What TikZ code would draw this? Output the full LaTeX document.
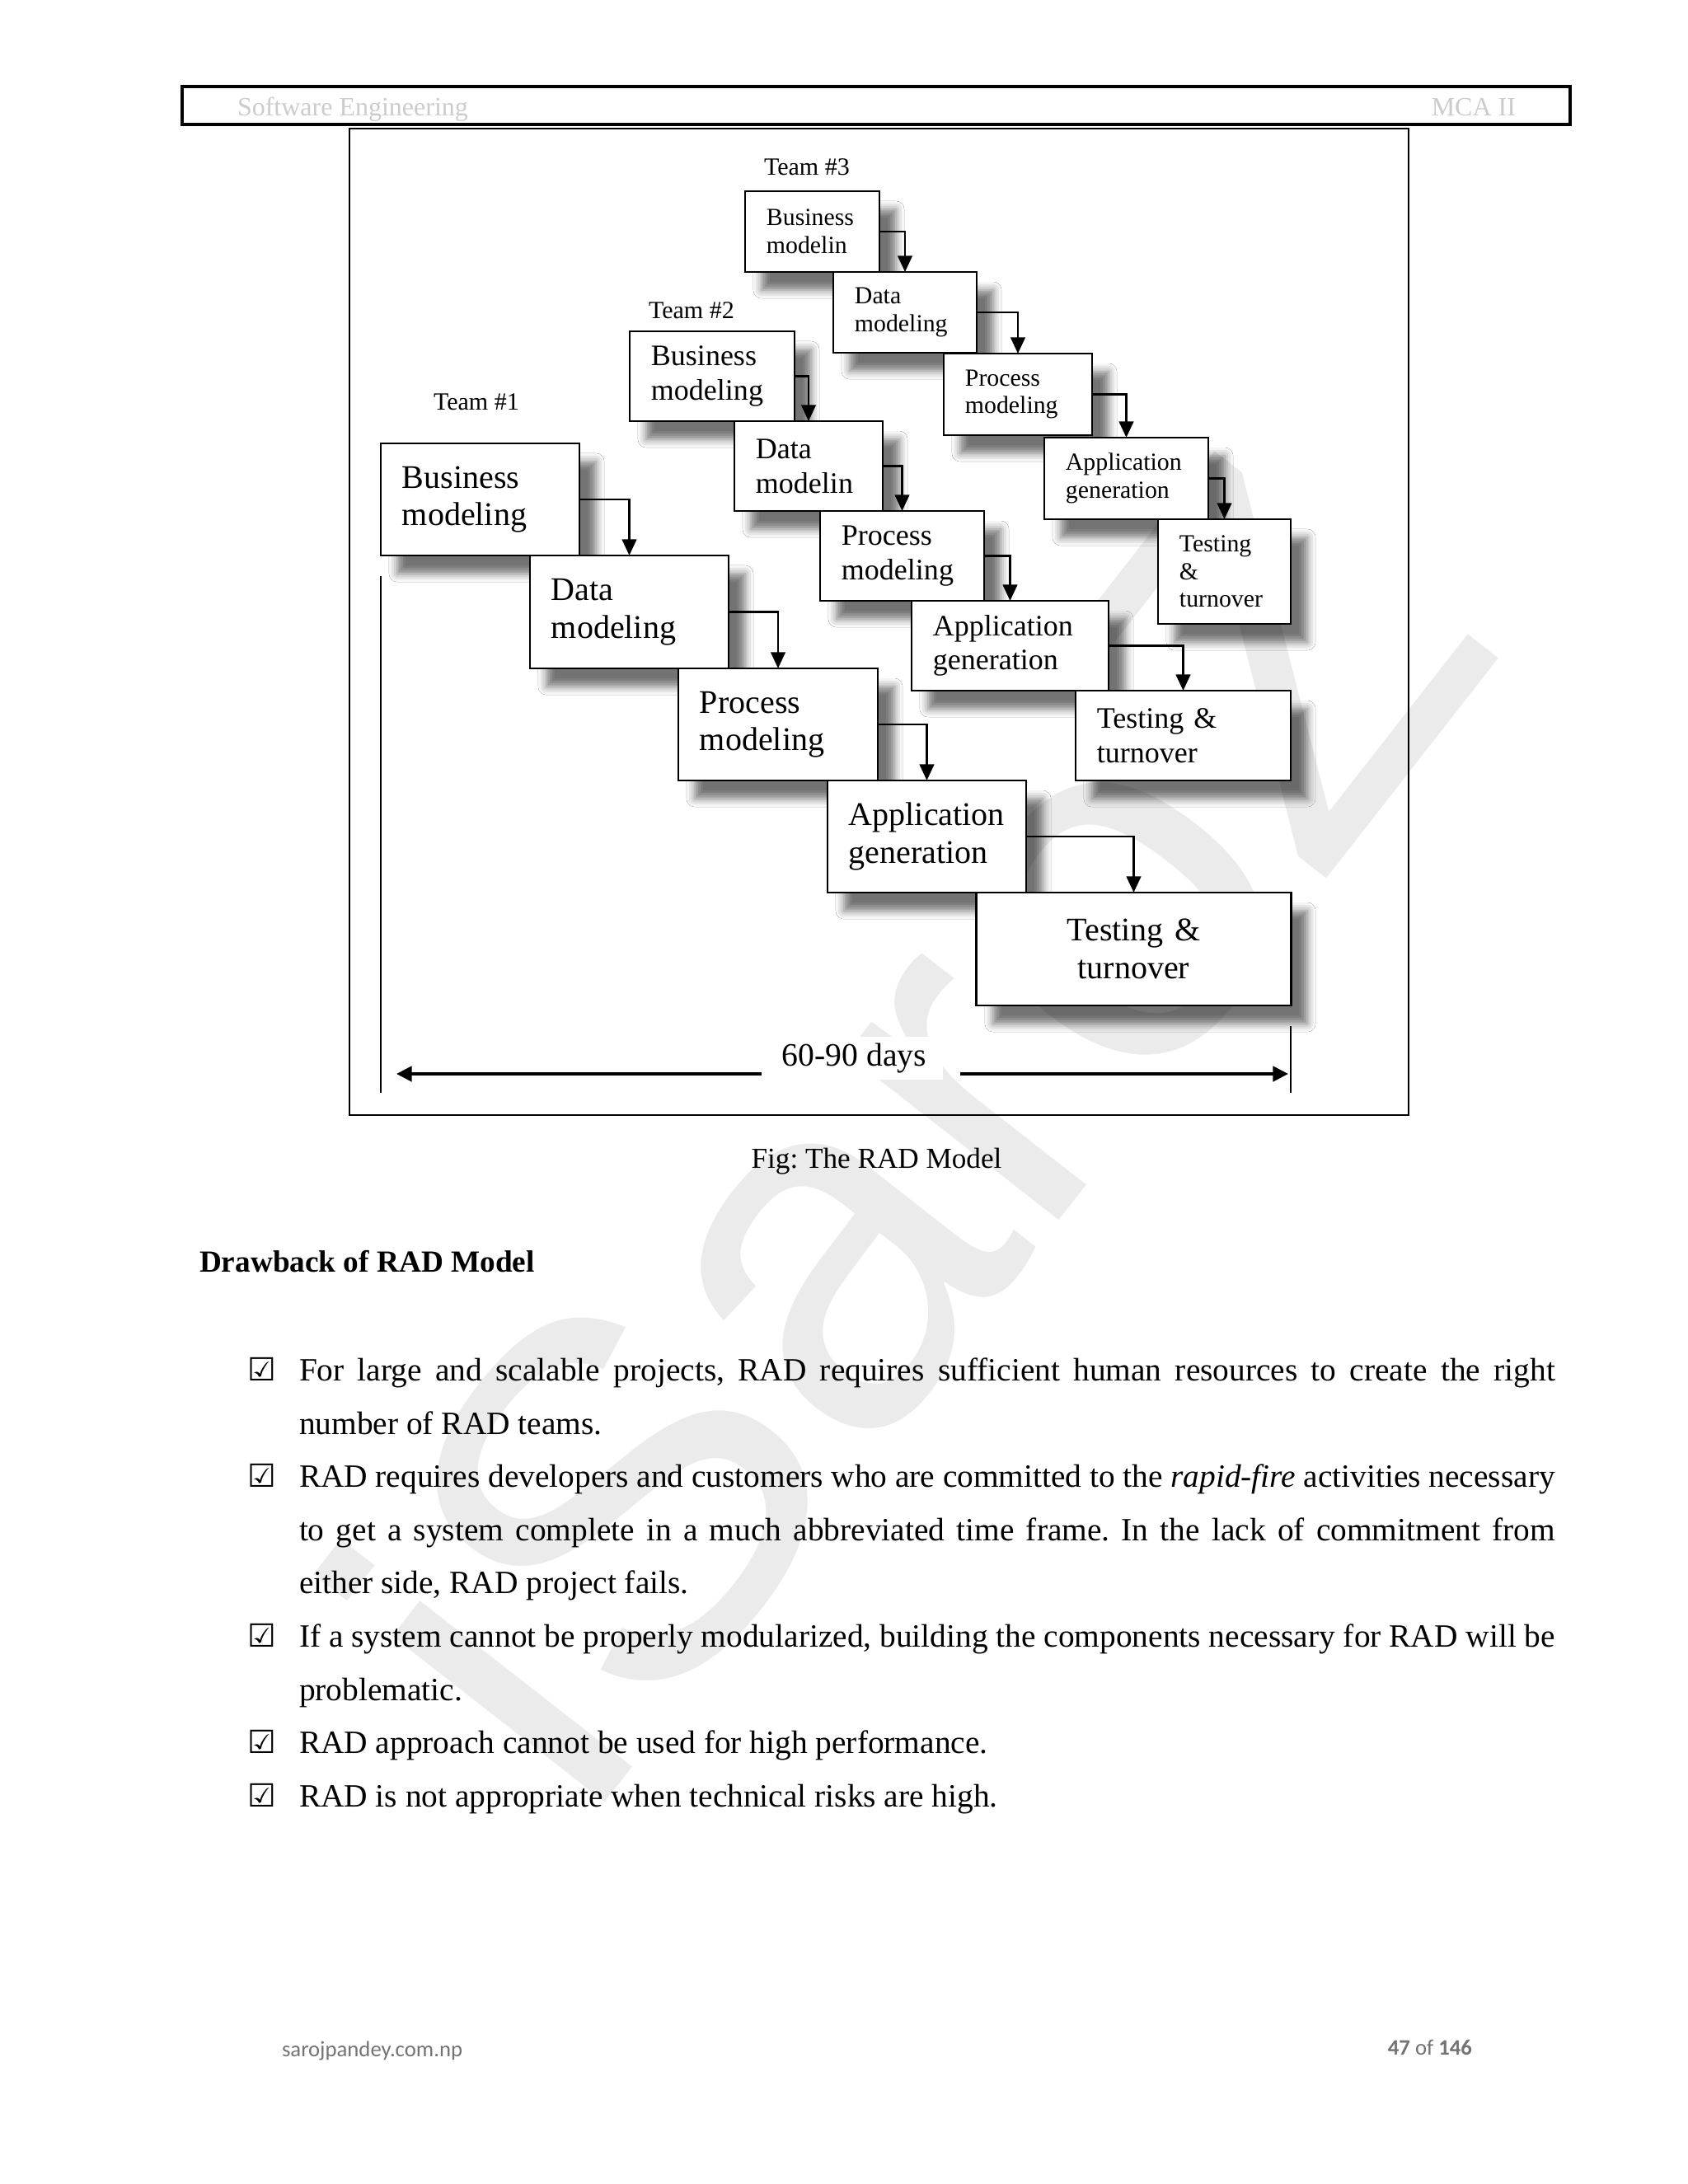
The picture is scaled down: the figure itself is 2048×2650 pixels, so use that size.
\documentclass[tikz,border=0pt]{standalone}
\usepackage{fontspec}
\setmainfont{Liberation Serif}
\newfontfamily\wmfont{Liberation Sans}
\newfontfamily\footfont{Carlito}
\newfontfamily\symfont{DejaVu Sans}
\usetikzlibrary{arrows.meta,shadows.blur}
\hyphenpenalty=10000
\exhyphenpenalty=10000
\frenchspacing
\definecolor{hdrgray}{gray}{0.80}
\definecolor{footgray}{gray}{0.45}
\definecolor{wmgray}{gray}{0.92}
\begin{document}
\begin{tikzpicture}[x=0.01cm,y=-0.01cm,
  every node/.style={inner sep=0pt,outer sep=0pt},
  stepbox/.style={draw=black,line width=0.8pt,fill=white,align=left,
    blur shadow={shadow xshift=0.2cm,shadow yshift=-0.22cm,shadow blur radius=0.1cm,shadow opacity=55}},
  tone/.style={stepbox,font=\fontsize{11.38}{12.95}\selectfont},
  ttwo/.style={stepbox,font=\fontsize{10.24}{11.87}\selectfont},
  tthree/.style={stepbox,font=\fontsize{8.48}{9.53}\selectfont},
  flow/.style={draw=black,line width=0.8pt,-{Triangle[length=5.6pt,width=5pt]}},
  span/.style={draw=black,line width=1.1pt,-{Triangle[length=5.3pt,width=5.2pt]}},
  tick/.style={draw=black,line width=0.6pt},
  teamlabel/.style={anchor=base west,font=\fontsize{8.54}{10}\selectfont},
  bodyline/.style={anchor=base west,font=\fontsize{11.2}{13}\selectfont},
  checkmark/.style={anchor=base west,font=\symfont\fontsize{11}{13}\selectfont},
]
\useasboundingbox (0,0) rectangle (2048,2650);
\fill[white] (0,0) rectangle (2048,2650);

% watermark
\node[rotate=52,font=\wmfont\fontsize{176}{176}\selectfont,text=wmgray] (wm) at (1095,1365) {iSaroZ};

% header
\draw[line width=0.9pt] (221,105) rectangle (1905,151);
\node[anchor=base west,font=\fontsize{9.1}{11}\selectfont,text=hdrgray] (h1) at (288,140) {Software Engineering};
\node[anchor=base east,font=\fontsize{9.1}{11}\selectfont,text=hdrgray] (h2) at (1839,140) {MCA II};

% figure frame
\draw[line width=0.8pt] (424,156) rectangle (1709,1353);

% team labels
\node[teamlabel] (t3) at (927,212.7) {Team \#3};
\node[teamlabel] (t2) at (787,386.7) {Team \#2};
\node[teamlabel] (t1) at (526,497.7) {Team \#1};

% Team 3
\node[tthree,minimum width=1.63cm,minimum height=0.98cm,text width=1.11cm] (b31) at (985.5,281) {Business\\modelin};
\node[tthree,minimum width=1.74cm,minimum height=0.98cm,text width=1.22cm] (b32) at (1098,379) {Data\\modeling};
\node[tthree,minimum width=1.80cm,minimum height=0.99cm,text width=1.28cm] (b33) at (1235,478.5) {Process\\modeling};
\node[tthree,minimum width=1.99cm,minimum height=0.99cm,text width=1.47cm] (b34) at (1366.5,580.5) {Application\\generation};
\node[tthree,minimum width=1.61cm,minimum height=1.27cm,text width=1.09cm] (b35) at (1485.5,693.5) {Testing\\\&\\turnover};

% Team 2
\node[ttwo,minimum width=2.00cm,minimum height=1.09cm,text width=1.48cm] (b21) at (864,456.5) {Business\\modeling};
\node[ttwo,minimum width=1.80cm,minimum height=1.09cm,text width=1.28cm] (b22) at (981,565.5) {Data\\modelin};
\node[ttwo,minimum width=1.99cm,minimum height=1.09cm,text width=1.47cm] (b23) at (1094.5,674.5) {Process\\modeling};
\node[ttwo,minimum width=2.39cm,minimum height=1.09cm,text width=1.87cm] (b24) at (1225.5,783.5) {Application\\generation};
\node[ttwo,minimum width=2.61cm,minimum height=1.09cm,text width=2.09cm] (b25) at (1435.5,892.5) {Testing \&\\turnover};

% Team 1
\node[tone,minimum width=2.41cm,minimum height=1.36cm,text width=1.89cm] (b11) at (582.5,606) {Business\\modeling};
\node[tone,minimum width=2.41cm,minimum height=1.37cm,text width=1.89cm] (b12) at (763.5,742.5) {Data\\modeling};
\node[tone,minimum width=2.42cm,minimum height=1.36cm,text width=1.90cm] (b13) at (944,879) {Process\\modeling};
\node[tone,minimum width=2.41cm,minimum height=1.36cm,text width=1.89cm] (b14) at (1124.5,1015) {Application\\generation};
\node[tone,align=center,minimum width=3.81cm,minimum height=1.37cm,text width=3.29cm] (b15) at (1375.5,1151.5) {Testing \&\\turnover};

% connectors
\draw[flow] (b31.east) -| (b32.north);
\draw[flow] (b32.east) -| (b33.north);
\draw[flow] (b33.east) -| (b34.north);
\draw[flow] (b34.east) -| (b35.north);
\draw[flow] (b21.east) -| (b22.north);
\draw[flow] (b22.east) -| (b23.north);
\draw[flow] (b23.east) -| (b24.north);
\draw[flow] (b24.east) -| (b25.north);
\draw[flow] (b11.east) -| (b12.north);
\draw[flow] (b12.east) -| (b13.north);
\draw[flow] (b13.east) -| (b14.north);
\draw[flow] (b14.east) -| (b15.north);

% time span
\coordinate (tl1) at (462,699);
\coordinate (tl2) at (462,1326);
\coordinate (tr1) at (1566,1245);
\coordinate (tr2) at (1566,1326);
\draw[tick] (tl1) -- (tl2);
\draw[tick] (tr1) -- (tr2);
\coordinate (dl) at (481,1303);
\coordinate (gl) at (924,1303);
\coordinate (gr) at (1165,1303);
\coordinate (dr) at (1563,1303);
\draw[span] (gl) -- (dl);
\draw[span] (gr) -- (dr);
\node[anchor=base,fill=white,inner xsep=0.2cm,inner ysep=0.08cm,font=\fontsize{11.27}{13}\selectfont] (days) at (1036.5,1293) {60-90 days};

% caption
\node[anchor=base,font=\fontsize{10}{12}\selectfont] (cap) at (1063.5,1417) {Fig: The RAD Model};

% heading
\node[anchor=base west,font=\bfseries\fontsize{10.6}{12}\selectfont] (hd) at (242,1543) {Drawback of RAD Model};

% bullets
\node[checkmark] (c1) at (300,1675) {☑};
\node[checkmark] (c2) at (300,1804) {☑};
\node[checkmark] (c3) at (300,1998) {☑};
\node[checkmark] (c4) at (300,2127) {☑};
\node[checkmark] (c5) at (300,2192) {☑};

\node[bodyline] (l1) at (363,1675) {\makebox[15.23cm][s]{For large and scalable projects, RAD requires sufficient human resources to create the right}};
\node[bodyline] (l2) at (363,1740) {number of RAD teams.};
\node[bodyline] (l3) at (363,1804) {\makebox[15.23cm][s]{RAD requires developers and customers who are committed to the \textit{rapid-fire} activities necessary}};
\node[bodyline] (l4) at (363,1869) {\makebox[15.23cm][s]{to get a system complete in a much abbreviated time frame. In the lack of commitment from}};
\node[bodyline] (l5) at (363,1933) {either side, RAD project fails.};
\node[bodyline] (l6) at (363,1998) {\makebox[15.23cm][s]{If a system cannot be properly modularized, building the components necessary for RAD will be}};
\node[bodyline] (l7) at (363,2063) {problematic.};
\node[bodyline] (l8) at (363,2127) {RAD approach cannot be used for high performance.};
\node[bodyline] (l9) at (363,2192) {RAD is not appropriate when technical risks are high.};

% footer
\node[anchor=base west,font=\footfont\fontsize{7.6}{9}\selectfont,text=footgray] (f1) at (342,2495) {sarojpandey.com.np};
\node[anchor=base east,font=\footfont\fontsize{7.6}{9}\selectfont,text=footgray] (f2) at (1786,2493) {\textbf{47} of \textbf{146}};
\end{tikzpicture}
\end{document}
